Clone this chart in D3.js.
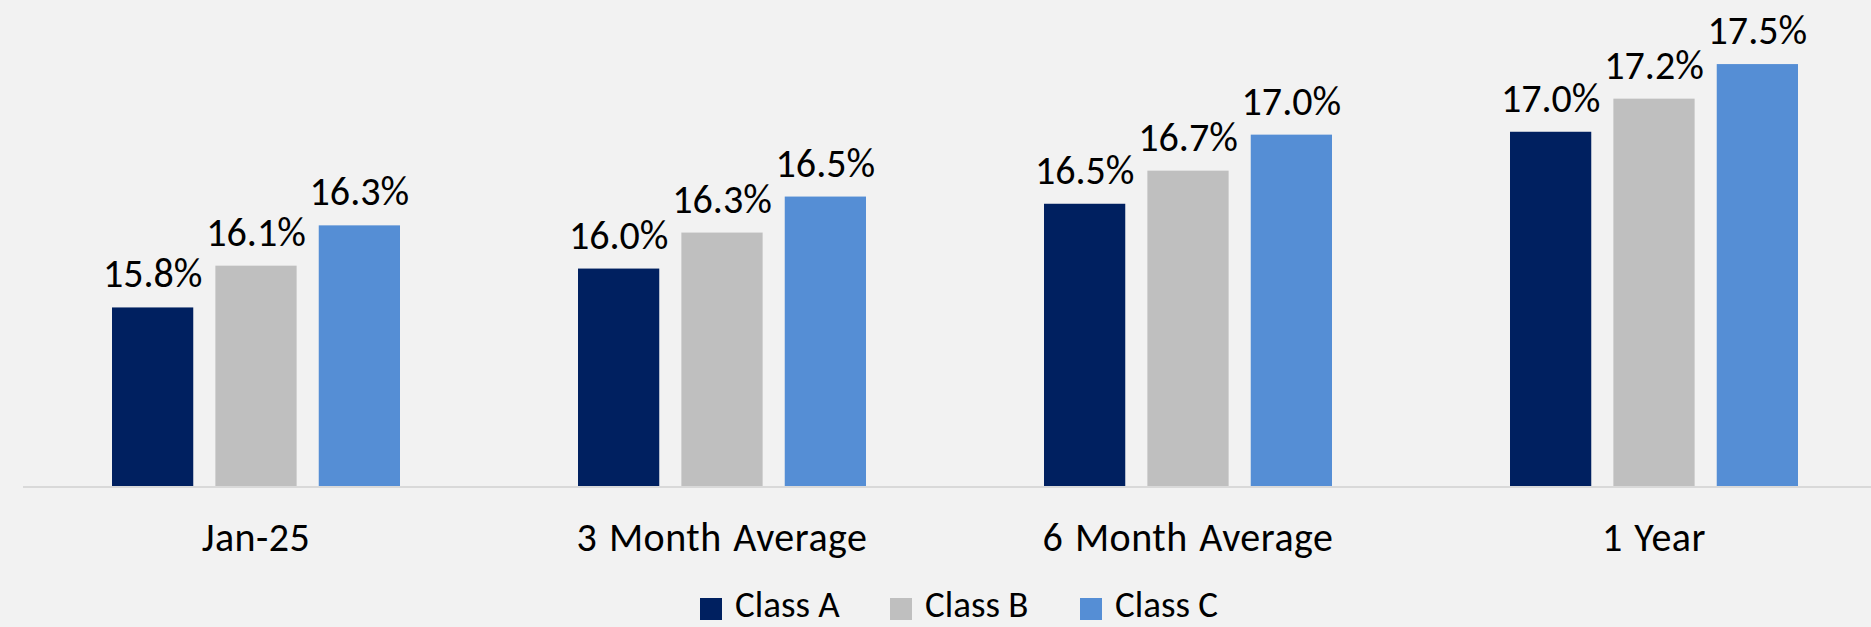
<!DOCTYPE html>
<html>
<head>
<meta charset="utf-8">
<script src="https://cdn.jsdelivr.net/npm/d3@7"></script>
<style>
  html, body { margin: 0; padding: 0; background: #f2f2f2; }
  svg { display: block; }
  text { font-family: Carlito, Calibri, Lato, "Open Sans", sans-serif; fill: #000; }
</style>
</head>
<body>
<svg id="chart" width="1871" height="627"></svg>
<script>
const categories = ["Jan-25", "3 Month Average", "6 Month Average", "1 Year"];
const seriesNames = ["Class A", "Class B", "Class C"];
const classA = [15.77, 16.04, 16.49, 16.99];
const classB = [16.06, 16.29, 16.72, 17.22];
const classC = [16.34, 16.54, 16.97, 17.46];
const seriesColors = ["#002060", "#bfbfbf", "#558ed5"];

const seriesValues = [classA, classB, classC];
const W = 1871, H = 627;
const svg = d3.select("#chart");
svg.append("rect").attr("width", W).attr("height", H).attr("fill", "#f2f2f2");

const baseY = 486;
const x0 = d3.scaleBand().domain(categories).range([23, 23 + 466 * 4]).paddingInner(0.382).paddingOuter(0.191);
const x1 = d3.scaleBand().domain(seriesNames).range([0, x0.bandwidth()]).paddingInner(0.214).paddingOuter(0);
const y = d3.scaleLinear().domain([14.53, 17.5]).range([baseY, baseY - 2.97 * 144]);
const color = d3.scaleOrdinal().domain(seriesNames).range(seriesColors);
const fmt = d3.format(".1f");

const rows = categories.map((c, i) => ({
  cat: c,
  vals: seriesNames.map((s, j) => ({ s, v: seriesValues[j][i] }))
}));

const g = svg.append("g");
const groups = g.selectAll("g.grp").data(rows).join("g")
  .attr("class", "grp")
  .attr("transform", d => `translate(${x0(d.cat)},0)`);

groups.selectAll("rect").data(d => d.vals).join("rect")
  .attr("x", d => x1(d.s))
  .attr("y", d => y(d.v))
  .attr("width", x1.bandwidth())
  .attr("height", d => baseY - y(d.v))
  .attr("fill", d => color(d.s));

groups.selectAll("text.lbl").data(d => d.vals).join("text")
  .attr("class", "lbl")
  .attr("x", d => x1(d.s) + x1.bandwidth() / 2)
  .attr("y", d => y(d.v) - 20)
  .attr("text-anchor", "middle")
  .style("font-size", "40px")
  .text(d => fmt(d.v) + "%");

// baseline axis
const xAxis = d3.axisBottom(x0).tickSize(0).tickPadding(0);
const ax = svg.append("g").attr("transform", `translate(0,${baseY})`).call(xAxis);
ax.select(".domain").remove();
ax.append("line").attr("x1", 23).attr("x2", W).attr("y1", 1).attr("y2", 1)
  .attr("stroke", "#d9d9d9").attr("stroke-width", 2);
ax.selectAll(".tick text")
  .attr("y", 65).attr("dy", 0)
  .style("font-size", "40px")
  .style("word-spacing", "2px")
  .style("letter-spacing", "0.5px")
  .style("font-family", "Carlito, Calibri, Lato, 'Open Sans', sans-serif")
  .attr("fill", "#000");

// legend
const legendX = [700, 890, 1080];
const leg = svg.append("g");
seriesNames.forEach((s, i) => {
  leg.append("rect").attr("x", legendX[i]).attr("y", 598).attr("width", 22).attr("height", 22).attr("fill", color(s));
  leg.append("text").attr("x", legendX[i] + 35).attr("y", 617).style("font-size", "37px").text(s);
});
</script>
</body>
</html>
